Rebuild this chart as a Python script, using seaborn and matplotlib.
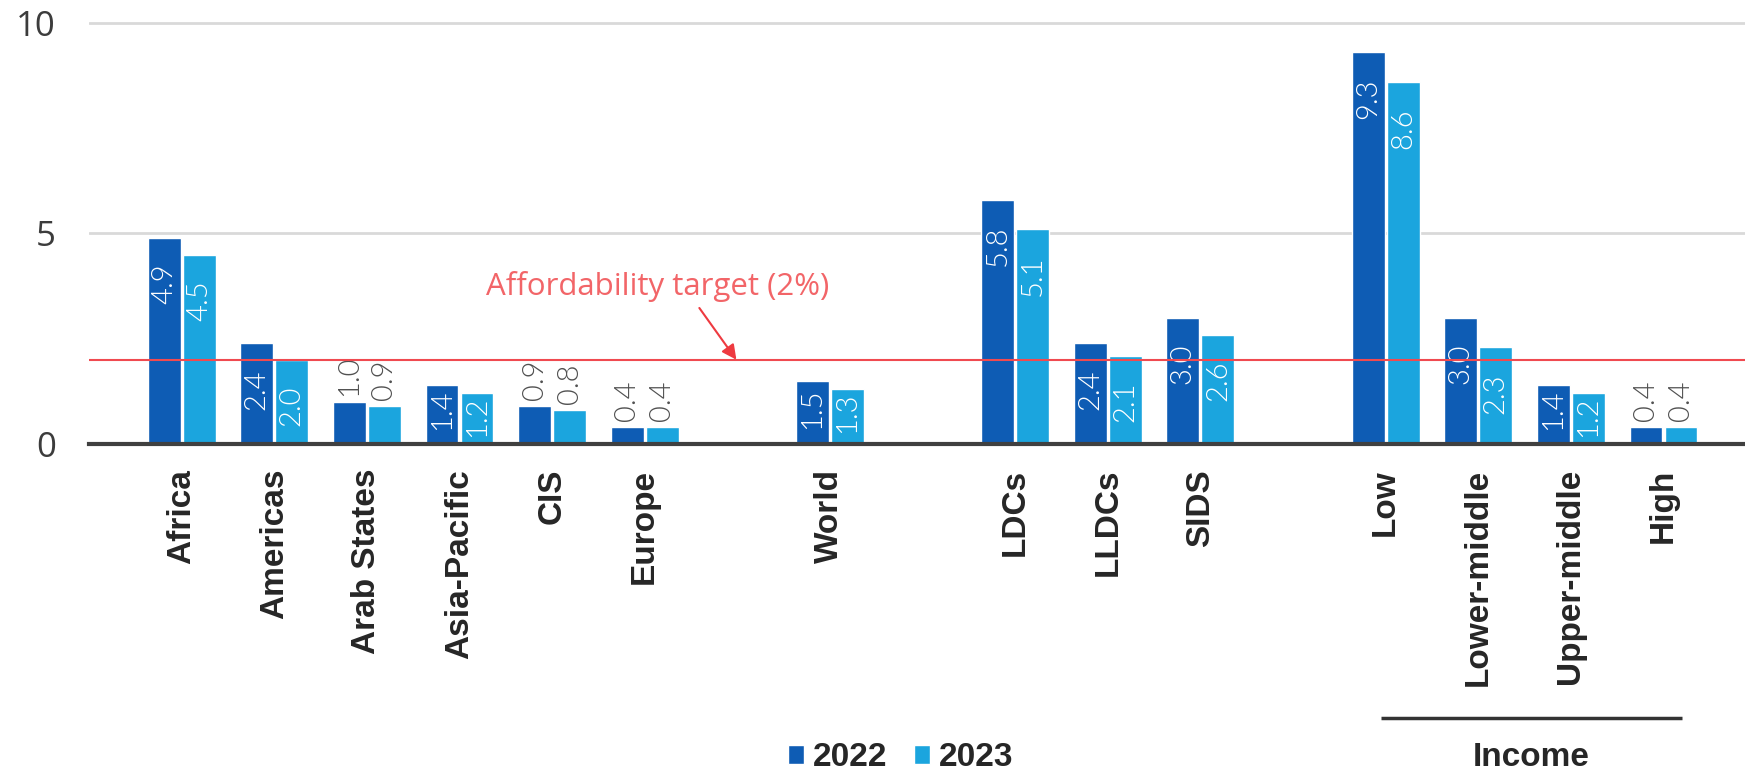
import matplotlib
matplotlib.use('Agg')
import matplotlib.pyplot as plt
import matplotlib.transforms as mtransforms
import pandas as pd
import seaborn as sns

# Categories, in groups
regions = ['Africa', 'Americas', 'Arab States', 'Asia-Pacific', 'CIS', 'Europe']
world = ['World']
groups = ['LDCs', 'LLDCs', 'SIDS']
income = ['Low', 'Lower-middle', 'Upper-middle', 'High']
categories = regions + world + groups + income

# Values (% of GNI per capita)
years = ['2022', '2023']
values_2022 = [4.9, 2.4, 1.0, 1.4, 0.9, 0.4, 1.5, 5.8, 2.4, 3.0, 9.3, 3.0, 1.4, 0.4]
values_2023 = [4.5, 2.0, 0.9, 1.2, 0.8, 0.4, 1.3, 5.1, 2.1, 2.6, 8.6, 2.3, 1.2, 0.4]
target = 2.0

colors = ['#0E5CB4', '#1BA5DE']

# empty slots between the groups
order = regions + [''] + world + [' '] + groups + ['  '] + income

df = pd.DataFrame({
    'Category': categories * 2,
    'Year': [years[0]] * len(categories) + [years[1]] * len(categories),
    'Value': values_2022 + values_2023,
})

sns.set_theme(style='white')
plt.rcParams['font.family'] = ['Liberation Sans', 'DejaVu Sans']

fig = plt.figure(figsize=(17.45, 7.74), dpi=100)
ax = fig.add_axes([0.051, 0.4264, 0.949, 0.5548])

sns.barplot(data=df, x='Category', y='Value', hue='Year', order=order,
            hue_order=years, palette=colors, width=0.756, gap=0.06,
            saturation=1, errorbar=None, ax=ax)

ymax = 10.2
ax.set_xlim(-1.0, 16.88)
ax.set_ylim(0, ymax)
ax.set_yticks([0, 5, 10])
ax.set_xlabel('')
ax.set_ylabel('')
ax.yaxis.grid(True, color='#d9d9d9', lw=2)
ax.xaxis.grid(False)
ax.set_axisbelow(True)
for s in ['left', 'right', 'top']:
    ax.spines[s].set_visible(False)
ax.spines['bottom'].set_color('#404040')
ax.spines['bottom'].set_linewidth(3)

ax.tick_params(axis='x', length=0, pad=18, rotation=90, labelsize=24, labelcolor='#262626')
for lab in ax.get_xticklabels():
    lab.set_fontweight('bold')
ax.tick_params(axis='y', length=0, pad=24, labelsize=25, labelcolor='#3c3c3c')
for lab in ax.get_yticklabels():
    lab.set_family('Open Sans')

# value labels: inside tall bars, above short ones
px_per_unit = 0.5548 * 774 / ymax
label_len = 41
for patch in ax.patches:
    h = patch.get_height()
    if not h > 0:
        continue
    xc = patch.get_x() + patch.get_width() / 2
    if h >= 1.1:
        bar_px = h * px_per_unit
        off = min(26, max(3, bar_px - label_len - 14))
        ax.annotate(f'{h:.1f}', (xc, h), xytext=(0, -off), textcoords='offset pixels',
                    rotation=90, ha='center', va='top', color='white',
                    fontsize=21, family='Lato', fontweight=300)
    else:
        ax.annotate(f'{h:.1f}', (xc, h), xytext=(0, 6), textcoords='offset pixels',
                    rotation=90, ha='center', va='bottom', color='#505050',
                    fontsize=21, family='Lato', fontweight=300)

# affordability target
ax.axhline(target, color='#F04A50', lw=1.5, zorder=3)
ax.text(5.14, 3.73, 'Affordability target (2%)', ha='center', va='center',
        color='#F26568', fontsize=22.5, family='Open Sans')
ax.annotate('', xy=(5.99, target), xytext=(5.59, 3.23),
            arrowprops=dict(arrowstyle='-|>', color='#EE3A40', lw=1.5,
                            mutation_scale=22, shrinkA=0, shrinkB=0))

# legend at the bottom
handles, labels = ax.get_legend_handles_labels()
if ax.get_legend() is not None:
    ax.get_legend().remove()
fig.legend(handles, labels, loc='center', bbox_to_anchor=(0.516, 0.021), ncol=2,
           frameon=False, prop=dict(family='Liberation Sans', weight='bold', size=24),
           handlelength=0.5, handleheight=0.5, handletextpad=0.25, columnspacing=0.8,
           borderpad=0, borderaxespad=0)

# income bracket
trans = mtransforms.blended_transform_factory(ax.transData, fig.transFigure)
x0 = order.index('Low') - 0.05
x1 = order.index('High') + 0.2
ax.plot([x0, x1], [0.0724, 0.0724], transform=trans, color='#333333', lw=2.5,
        clip_on=False, solid_capstyle='butt')
ax.text((x0 + x1) / 2, 0.0207, 'Income', transform=trans, ha='center', va='center',
        fontsize=24, fontweight='bold', color='#262626')

fig.savefig('out.png', dpi=100)
